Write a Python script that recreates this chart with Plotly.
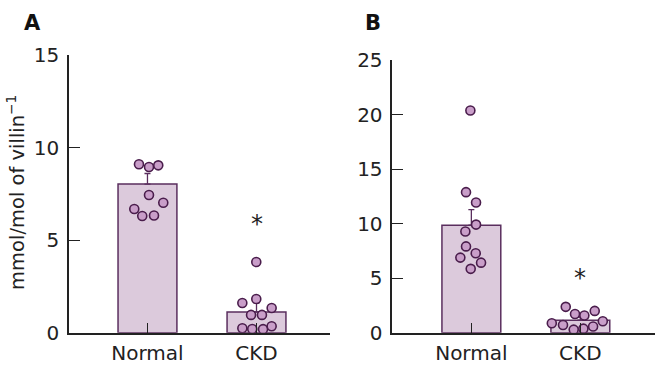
import plotly.graph_objects as go

categories = ["Normal", "CKD"]

# Panel A
a_means = [8.03, 1.12]
a_err = [0.57, 0.48]
a_normal = [9.1, 8.95, 9.04, 7.44, 7.02, 6.68, 6.3, 6.33]
a_normal_jit = [-0.078, 0.014, 0.099, 0.014, 0.145, -0.121, -0.048, 0.060]
a_ckd = [3.82, 1.82, 1.6, 1.33, 0.96, 0.96, 0.24, 0.2, 0.19, 0.35]
a_ckd_jit = [-0.002, -0.002, -0.130, 0.139, -0.050, 0.050, -0.130, -0.039, 0.060, 0.139]
a_star = 5.87
a_ticks = [0, 5, 10, 15]

# Panel B
b_means = [9.86, 1.14]
b_err = [1.43, 0.3]
b_normal = [20.4, 12.9, 11.95, 9.92, 9.29, 7.92, 7.29, 6.89, 6.43, 5.86]
b_normal_jit = [-0.009, -0.049, 0.043, 0.043, -0.055, -0.049, 0.040, -0.101, 0.089, -0.006]
b_ckd = [2.37, 1.71, 1.57, 2.0, 1.05, 0.86, 0.71, 0.57, 0.37, 0.28]
b_ckd_jit = [-0.134, -0.049, 0.037, 0.132, 0.206, -0.262, -0.159, 0.117, 0.028, -0.061]
b_star = 5.0
b_ticks = [0, 5, 10, 15, 20, 25]

BAR_FILL = "#dccadc"
BAR_LINE = "#5a2e5e"
PT_FILL = "#c99ec9"
PT_LINE = "#4a1d4c"
AX = "#222222"
FONT = "DejaVu Sans"

fig = go.Figure()

def add_panel(means, err, normal, njit, ckd, cjit, xa, ya):
    fig.add_trace(go.Bar(
        x=[0, 1], y=means, width=0.54,
        marker=dict(color=BAR_FILL, line=dict(color=BAR_LINE, width=1.5)),
        error_y=dict(type="data", symmetric=False, array=err, arrayminus=[0, 0],
                     color=BAR_LINE, thickness=1.3, width=3),
        xaxis=xa, yaxis=ya, showlegend=False))
    fig.add_trace(go.Scatter(
        x=[0 + j for j in njit] + [1 + j for j in cjit], y=normal + ckd,
        mode="markers",
        marker=dict(size=9, color=PT_FILL, line=dict(color=PT_LINE, width=1.6)),
        xaxis=xa, yaxis=ya, showlegend=False))

add_panel(a_means, a_err, a_normal, a_normal_jit, a_ckd, a_ckd_jit, "x", "y")
add_panel(b_means, b_err, b_normal, b_normal_jit, b_ckd, b_ckd_jit, "x2", "y2")

xcommon = dict(tickmode="array", tickvals=[0, 1], ticktext=categories,
               showline=True, linecolor=AX, linewidth=1.5, ticks="inside",
               ticklen=10, tickcolor=AX, tickwidth=1.3, showgrid=False, zeroline=False,
               tickfont=dict(family=FONT, size=20, color="#222"), ticklabelstandoff=2)
ycommon = dict(showline=True, linecolor=AX, linewidth=1.5, ticks="inside",
               ticklen=11, tickcolor=AX, tickwidth=1.3, showgrid=False, zeroline=False,
               tickfont=dict(family=FONT, size=20, color="#222"), ticklabelstandoff=4)

fig.update_layout(
    width=655, height=369, margin=dict(l=0, r=0, t=0, b=0),
    paper_bgcolor="white", plot_bgcolor="white",
    xaxis=dict(domain=[0.1053, 0.5038], range=[-0.72, 1.674], anchor="y", **xcommon),
    yaxis=dict(domain=[0.0705, 0.8753], range=[0, 15], tickvals=a_ticks, anchor="x", **ycommon),
    xaxis2=dict(domain=[0.599, 1.0], range=[-0.725, 1.685], anchor="y2", **xcommon),
    yaxis2=dict(domain=[0.0705, 0.8599], range=[0, 25], tickvals=b_ticks, anchor="x2", **ycommon),
    annotations=[
        dict(text="<b>A</b>", x=32 / 655, y=1 - 12 / 369, xref="paper", yref="paper",
             showarrow=False, font=dict(family=FONT, size=21, color="#111"),
             xanchor="center", yanchor="middle"),
        dict(text="<b>B</b>", x=373 / 655, y=1 - 12 / 369, xref="paper", yref="paper",
             showarrow=False, font=dict(family=FONT, size=21, color="#111"),
             xanchor="center", yanchor="middle"),
        dict(text="mmol/mol of villin<sup>−1</sup>", x=16 / 655, y=0.4756,
             xref="paper", yref="paper", textangle=-90, showarrow=False,
             font=dict(family=FONT, size=19.5, color="#222"),
             xanchor="center", yanchor="middle"),
        dict(text="*", x=1, y=a_star, xref="x", yref="y", showarrow=False,
             font=dict(family=FONT, size=24, color="#222"), yanchor="middle"),
        dict(text="*", x=1, y=b_star, xref="x2", yref="y2", showarrow=False,
             font=dict(family=FONT, size=24, color="#222"), yanchor="middle"),
    ],
)

fig.write_html("out.html", config={"displayModeBar": False},
               post_script="document.body.style.margin='0';document.body.style.overflow='hidden';")
